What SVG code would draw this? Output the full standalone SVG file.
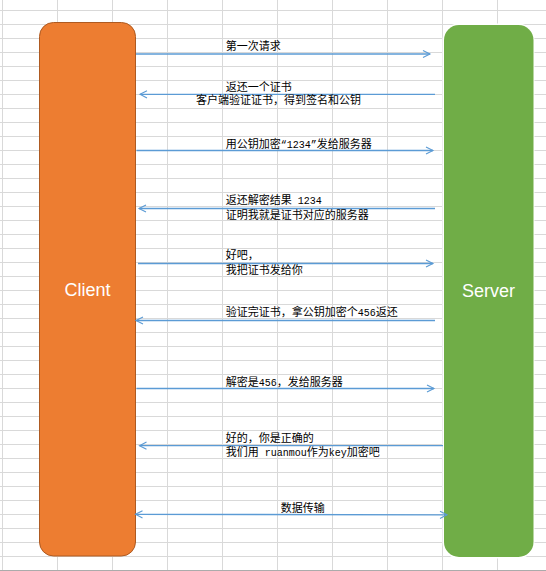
<svg xmlns="http://www.w3.org/2000/svg" width="546" height="571" viewBox="0 0 546 571">
<style>
.grid line{stroke:#D9D9D9;stroke-width:1}
.conn line{stroke:#5B9BD5;stroke-width:1.3;fill:none}
.lbl{font-family:"Noto Sans CJK SC","Liberation Sans",sans-serif;font-size:11px;fill:#000}
.m{font-family:"Liberation Mono","Noto Sans CJK SC",monospace;font-size:10px}
.big{font-family:"Liberation Sans",Arial,sans-serif;font-size:18px;fill:#fff;text-anchor:middle}
</style>
<defs>
<marker id="ah" markerUnits="userSpaceOnUse" markerWidth="12" markerHeight="12" viewBox="-10 -6 12 12" refX="0" refY="0" orient="auto-start-reverse">
<path d="M-7,-3.6 L0,0 L-7,3.6" fill="none" stroke="#5B9BD5" stroke-width="1.1"/>
</marker>
</defs>
<rect width="546" height="571" fill="#fff"/>
<g class="grid">
<line x1="0" y1="10.5" x2="546" y2="10.5"/><line x1="0" y1="24.5" x2="546" y2="24.5"/><line x1="0" y1="38.5" x2="546" y2="38.5"/><line x1="0" y1="52.5" x2="546" y2="52.5"/><line x1="0" y1="66.5" x2="546" y2="66.5"/><line x1="0" y1="80.5" x2="546" y2="80.5"/><line x1="0" y1="94.5" x2="546" y2="94.5"/><line x1="0" y1="108.5" x2="546" y2="108.5"/><line x1="0" y1="122.5" x2="546" y2="122.5"/><line x1="0" y1="136.5" x2="546" y2="136.5"/><line x1="0" y1="150.5" x2="546" y2="150.5"/><line x1="0" y1="164.5" x2="546" y2="164.5"/><line x1="0" y1="178.5" x2="546" y2="178.5"/><line x1="0" y1="192.5" x2="546" y2="192.5"/><line x1="0" y1="206.5" x2="546" y2="206.5"/><line x1="0" y1="220.5" x2="546" y2="220.5"/><line x1="0" y1="234.5" x2="546" y2="234.5"/><line x1="0" y1="248.5" x2="546" y2="248.5"/><line x1="0" y1="262.5" x2="546" y2="262.5"/><line x1="0" y1="276.5" x2="546" y2="276.5"/><line x1="0" y1="290.5" x2="546" y2="290.5"/><line x1="0" y1="304.5" x2="546" y2="304.5"/><line x1="0" y1="318.5" x2="546" y2="318.5"/><line x1="0" y1="332.5" x2="546" y2="332.5"/><line x1="0" y1="346.5" x2="546" y2="346.5"/><line x1="0" y1="360.5" x2="546" y2="360.5"/><line x1="0" y1="374.5" x2="546" y2="374.5"/><line x1="0" y1="388.5" x2="546" y2="388.5"/><line x1="0" y1="402.5" x2="546" y2="402.5"/><line x1="0" y1="416.5" x2="546" y2="416.5"/><line x1="0" y1="430.5" x2="546" y2="430.5"/><line x1="0" y1="444.5" x2="546" y2="444.5"/><line x1="0" y1="458.5" x2="546" y2="458.5"/><line x1="0" y1="472.5" x2="546" y2="472.5"/><line x1="0" y1="486.5" x2="546" y2="486.5"/><line x1="0" y1="500.5" x2="546" y2="500.5"/><line x1="0" y1="514.5" x2="546" y2="514.5"/><line x1="0" y1="528.5" x2="546" y2="528.5"/><line x1="0" y1="542.5" x2="546" y2="542.5"/><line x1="0" y1="556.5" x2="546" y2="556.5"/>
<line x1="2.5" y1="0" x2="2.5" y2="571"/><line x1="57.5" y1="0" x2="57.5" y2="571"/><line x1="112.5" y1="0" x2="112.5" y2="571"/><line x1="167.5" y1="0" x2="167.5" y2="571"/><line x1="222.5" y1="0" x2="222.5" y2="571"/><line x1="277.5" y1="0" x2="277.5" y2="571"/><line x1="332.5" y1="0" x2="332.5" y2="571"/><line x1="387.5" y1="0" x2="387.5" y2="571"/><line x1="442.5" y1="0" x2="442.5" y2="571"/><line x1="497.5" y1="0" x2="497.5" y2="571"/>
<line x1="0" y1="570.5" x2="546" y2="570.5" style="stroke:#ABABAB"/>
</g>
<g id="client">
<rect x="39.5" y="22.5" width="96" height="533.5" rx="14" fill="#ED7D31" stroke="#AE5A21" stroke-width="1"/>
<text class="big" x="87.5" y="296">Client</text>
</g>
<g id="server">
<rect x="442.5" y="23.5" width="92" height="535" rx="16" fill="#fff"/>
<rect x="444" y="25" width="89.5" height="532" rx="15" fill="#70AD47"/>
<text class="big" x="488.5" y="297">Server</text>
</g>
<g class="conn" id="connectors">
<line x1="136" y1="54" x2="430" y2="54" marker-end="url(#ah)"/>
<line x1="435" y1="94.3" x2="140" y2="94.3" marker-end="url(#ah)"/>
<line x1="136.5" y1="150.5" x2="433" y2="150.5" marker-end="url(#ah)"/>
<line x1="435" y1="208.5" x2="139" y2="208.5" marker-end="url(#ah)"/>
<line x1="138" y1="263.5" x2="433" y2="263.5" marker-end="url(#ah)"/>
<line x1="435" y1="320.5" x2="136" y2="320.5" marker-end="url(#ah)"/>
<line x1="136.5" y1="388.5" x2="434" y2="388.5" marker-end="url(#ah)"/>
<line x1="443" y1="445.7" x2="139.5" y2="445.7" marker-end="url(#ah)"/>
<line x1="135.5" y1="514.3" x2="447" y2="514.8" marker-start="url(#ah)" marker-end="url(#ah)"/>
</g>
<g id="labels">
<text class="lbl" x="225.7" y="50">第一次请求</text>
<text class="lbl" x="225.7" y="91.2">返还一个证书</text>
<text class="lbl" x="196" y="104.2">客户端验证证书，得到签名和公钥</text>
<text class="lbl" x="225.7" y="147.5">用公钥加密<tspan class="m">“1234”</tspan>发给服务器</text>
<text class="lbl" x="225.7" y="204.2">返还解密结果<tspan class="m"> 1234</tspan></text>
<text class="lbl" x="225.7" y="218.5">证明我就是证书对应的服务器</text>
<text class="lbl" x="225.7" y="259.2">好吧，</text>
<text class="lbl" x="225.7" y="274.2">我把证书发给你</text>
<text class="lbl" x="225.7" y="315.5">验证完证书，拿公钥加密个<tspan class="m">456</tspan>返还</text>
<text class="lbl" x="225.7" y="385.8">解密是<tspan class="m">456</tspan>，发给服务器</text>
<text class="lbl" x="225.7" y="441.9">好的，你是正确的</text>
<text class="lbl" x="225.7" y="456.2">我们用<tspan class="m"> ruanmou</tspan>作为<tspan class="m">key</tspan>加密吧</text>
<text class="lbl" x="280.7" y="512.2">数据传输</text>
</g>
</svg>
